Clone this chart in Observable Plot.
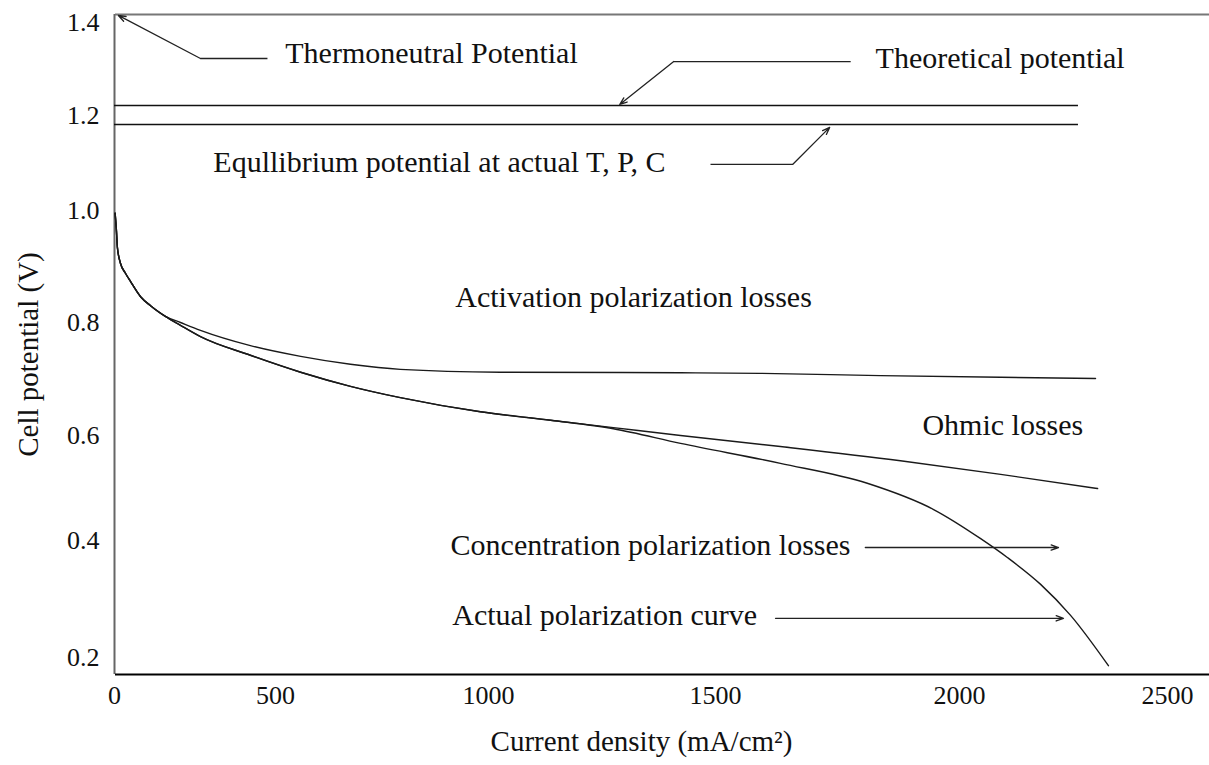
<!DOCTYPE html>
<html><head><meta charset="utf-8">
<script src="https://cdn.jsdelivr.net/npm/d3@7"></script>
<script src="https://cdn.jsdelivr.net/npm/@observablehq/plot@0.6"></script>
<style>body{margin:0;background:#fff;} svg{display:block;}</style>
</head><body><div id="chart"></div>
<script>
// tick values
const xTicks = [0, 500, 1000, 1500, 2000, 2500];
const yTicks = [0.2, 0.4, 0.6, 0.8, 1.0, 1.2, 1.4];
const xAxisMin = 0, yAxisMin = 0.171, yAxisMax = 1.417;

// curves (current density mA/cm2, cell potential V)
const activationX = [2, 6, 9, 19, 34, 50, 81, 112, 158, 205, 267, 422, 559, 676, 793, 1026, 1423, 1592, 1838, 2099, 2327];
const activationY = [0.995, 0.964, 0.934, 0.905, 0.888, 0.873, 0.846, 0.830, 0.811, 0.800, 0.786, 0.759, 0.740, 0.726, 0.717, 0.712, 0.711, 0.710, 0.706, 0.703, 0.701];
const ohmicX = [2, 6, 9, 19, 34, 50, 81, 112, 158, 205, 267, 422, 559, 676, 793, 981, 1137, 1275, 1423, 1633, 1879, 2099, 2332];
const ohmicY = [0.995, 0.964, 0.934, 0.905, 0.888, 0.873, 0.846, 0.830, 0.811, 0.795, 0.775, 0.742, 0.712, 0.687, 0.667, 0.642, 0.627, 0.614, 0.600, 0.579, 0.552, 0.526, 0.499];
const actualX = [2, 6, 9, 19, 34, 50, 81, 112, 158, 205, 267, 422, 559, 676, 793, 981, 1137, 1275, 1423, 1633, 1811, 1947, 2050, 2115, 2195, 2267, 2358];
const actualY = [0.995, 0.964, 0.934, 0.905, 0.888, 0.873, 0.846, 0.830, 0.811, 0.795, 0.775, 0.742, 0.712, 0.687, 0.667, 0.642, 0.627, 0.612, 0.585, 0.547, 0.509, 0.459, 0.404, 0.371, 0.325, 0.272, 0.186];

// reference potentials
const theoreticalV = 1.2215;
const equilibriumV = 1.181;
const potentialLineEnd = 2286;

// annotation labels
const labelText = ["Thermoneutral Potential", "Theoretical potential", "Equllibrium potential at actual T, P, C",
  "Activation polarization losses", "Ohmic losses", "Concentration polarization losses", "Actual polarization curve"];
const labelX = [523, 1828, 307, 922, 1924, 911, 915];
const labelY = [1.333, 1.3226, 1.101, 0.845, 0.618, 0.391, 0.272];

// leader lines (horizontal parts) and arrows
const leaderX1 = [475, 1777, 1489];
const leaderX2 = [267, 1408, 1658];
const leaderY = [1.3226, 1.316, 1.097];
const arrowX1 = [267, 1408, 1658, 1807, 1623];
const arrowY1 = [1.3226, 1.316, 1.097, 0.388, 0.267];
const arrowX2 = [12, 1289, 1734, 2238, 2250];
const arrowY2 = [1.415, 1.2237, 1.175, 0.388, 0.267];

const toPts = (xs, ys) => xs.map((x, i) => ({x, y: ys[i]}));
const curves = [toPts(activationX, activationY), toPts(ohmicX, ohmicY), toPts(actualX, actualY)];
const labels = labelText.map((t, i) => ({t, x: labelX[i], y: labelY[i]}));
const leaders = leaderY.map((y, i) => ({x1: leaderX1[i], x2: leaderX2[i], y}));
const arrows = arrowX1.map((x1, i) => ({x1, y1: arrowY1[i], x2: arrowX2[i], y2: arrowY2[i]}));

const font = "Liberation Serif, Times New Roman, serif";
const chart = Plot.plot({
  width: 1209, height: 765,
  marginLeft: 115, marginRight: 0, marginTop: 14, marginBottom: 91,
  style: {fontFamily: font, fontSize: "26px", color: "#111", background: "#fff"},
  x: {type: "linear", domain: [0, 500, 1000, 1500, 2000, 2500], range: [114, 275, 488, 715, 959, 1167],
      ticks: xTicks, tickSize: 0, tickPadding: 11, tickFormat: "d", label: null},
  y: {type: "linear", domain: [0.171, 0.2, 0.4, 0.6, 0.8, 1.0, 1.2, 1.4, 1.417], range: [674, 657, 540, 435, 322, 210, 115, 22, 14],
      ticks: yTicks, tickSize: 0, tickPadding: 16, tickFormat: ".1f", label: null},
  marks: [
    Plot.ruleX([xAxisMin], {stroke: "#666", strokeWidth: 2}),
    Plot.ruleY([yAxisMax], {stroke: "#777", strokeWidth: 2}),
    Plot.ruleY([yAxisMin], {stroke: "#000", strokeWidth: 2}),
    Plot.ruleY([theoreticalV, equilibriumV], {x1: 0, x2: potentialLineEnd, stroke: "#111", strokeWidth: 1.5}),
    ...curves.map(c => Plot.line(c, {x: "x", y: "y", curve: "monotone-x", stroke: "#1a1a1a", strokeWidth: 1.4})),
    Plot.link(leaders, {x1: "x1", x2: "x2", y1: "y", y2: "y", stroke: "#222", strokeWidth: 1.3}),
    Plot.arrow(arrows, {x1: "x1", y1: "y1", x2: "x2", y2: "y2", stroke: "#222", strokeWidth: 1.3, headLength: 9, headAngle: 40}),
    Plot.text(labels, {x: "x", y: "y", text: "t", textAnchor: "start", fontSize: 30, fill: "#111"}),
    Plot.text(["Current density (mA/cm²)"], {frameAnchor: "bottom", dx: -21, dy: 76, fontSize: 29, fill: "#111"}),
    Plot.text(["Cell potential (V)"], {frameAnchor: "left", textAnchor: "middle", dx: -87, dy: 10, rotate: -90, fontSize: 29, fill: "#111"})
  ]
});
document.getElementById("chart").appendChild(chart);
</script>
</body></html>
